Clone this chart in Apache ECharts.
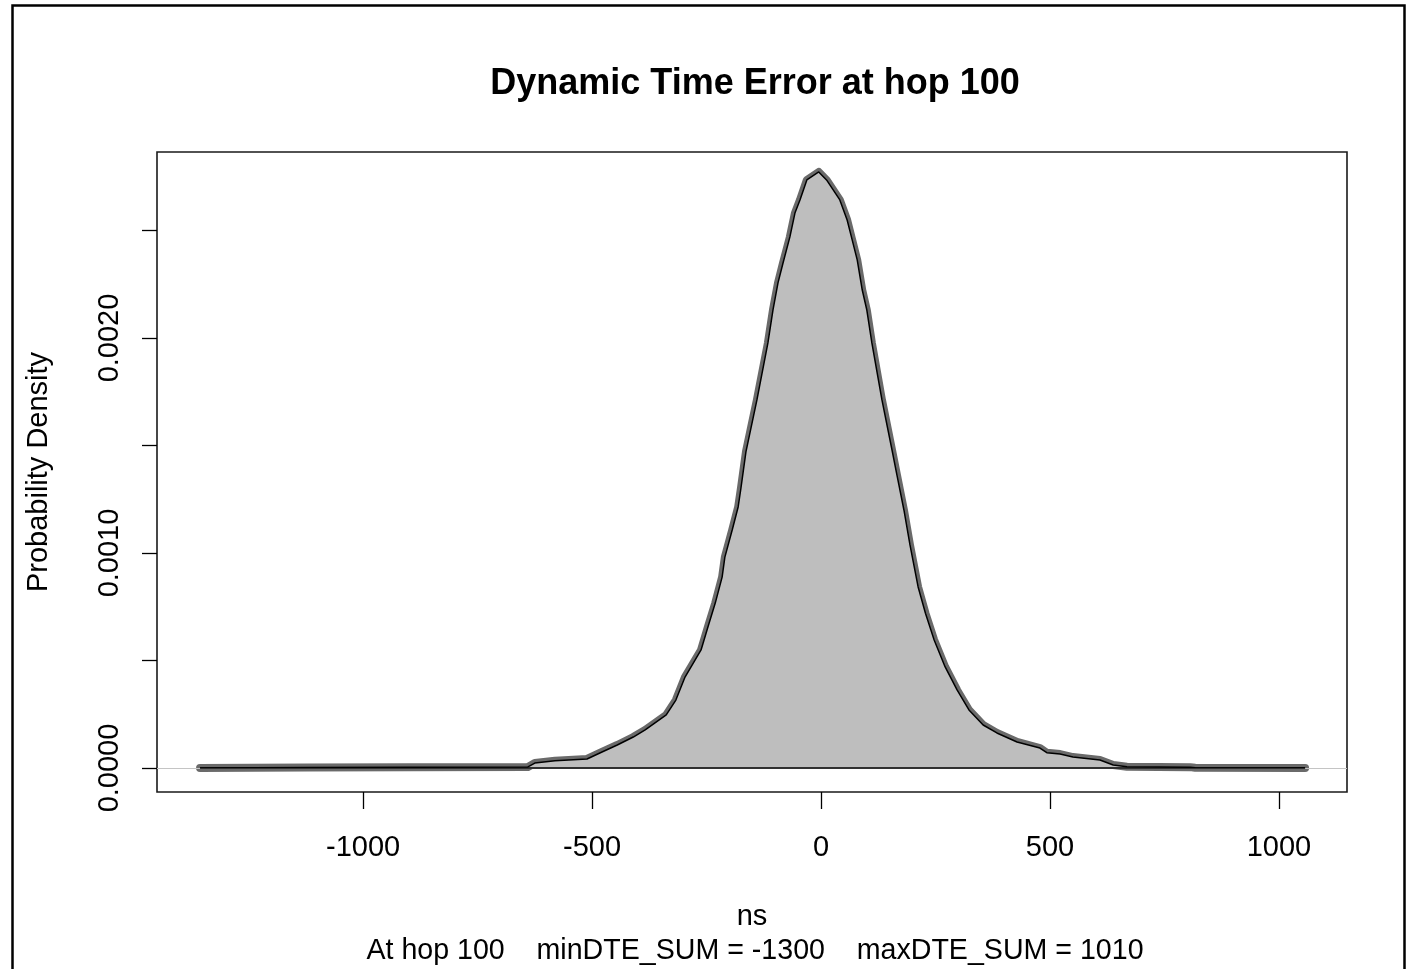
<!DOCTYPE html>
<html>
<head>
<meta charset="utf-8">
<script src="https://cdn.jsdelivr.net/npm/echarts@6/dist/echarts.min.js"></script>
<style>
html,body{margin:0;padding:0;background:#fff;}
#chart{width:1407px;height:969px;}
</style>
</head>
<body>
<div id="chart"></div>
<script>
// ---- data ----
const titleText = "Dynamic Time Error at hop 100";
const hop = 100;
const minDTE = -1300;
const maxDTE = 1010;
const xLabel = "ns";
const yLabel = "Probability Density";

// density estimate: x (ns) and y (probability density)
const densX = [-1356, -1122, -900, -640, -625, -581, -511, -483, -445, -410, -384, -338, -317, -297,
  -262, -247, -231, -216, -210, -194, -181, -175, -164, -140, -116, -105, -94, -83, -68, -57, -46,
  -31, -5, 12, 41, 57, 68, 79, 90, 100, 111, 133, 155, 166, 181, 194, 212, 228, 247, 271, 297, 323,
  354, 384, 428, 478, 493, 522, 550, 609, 638, 668, 806, 817, 1057];
const densY = [0, 0.000002, 0.000004, 0.000005, 0.000023, 0.000034, 0.000042, 0.00007, 0.000107,
  0.000144, 0.000177, 0.000247, 0.000316, 0.000423, 0.000549, 0.000656, 0.000767, 0.000888,
  0.000981, 0.001107, 0.001214, 0.001300, 0.001470, 0.001712, 0.001977, 0.00213, 0.002256,
  0.002349, 0.00247, 0.002581, 0.002642, 0.002735, 0.002772, 0.002735, 0.002642, 0.002549,
  0.002456, 0.002363, 0.002223, 0.00213, 0.001977, 0.001712, 0.001479, 0.001360, 0.001200,
  0.001040, 0.000842, 0.000720, 0.000595, 0.00047, 0.000363, 0.00027, 0.0002, 0.000163, 0.000121,
  0.000093, 0.000071, 0.000065, 0.000051, 0.000037, 0.000014, 0.000006, 0.000004, 0.000001, 0];

const xTicks = [-1000, -500, 0, 500, 1000];
const yTicks = [0, 0.0005, 0.001, 0.0015, 0.002, 0.0025];
const yTickLabels = [0, 0.001, 0.002];

// ---- build ----
const pts = densX.map((x, i) => [x, densY[i]]);
const baseLine = [[densX[0], 0], [densX[densX.length - 1], 0]];
const FONT = "'Liberation Sans', Arial, sans-serif";
const PLOT_CX = 750;

const chart = echarts.init(document.getElementById('chart'), null, {renderer: 'canvas'});
chart.setOption({
  animation: false,
  backgroundColor: '#ffffff',
  title: [{
    text: titleText,
    left: PLOT_CX,
    textAlign: 'center',
    top: 61,
    textStyle: {fontFamily: FONT, fontSize: 36, fontWeight: 'bold', color: '#000'}
  }, {
    text: 'At hop ' + hop + '    minDTE_SUM = ' + minDTE + '    maxDTE_SUM = ' + maxDTE,
    left: PLOT_CX,
    textAlign: 'center',
    top: 932,
    textStyle: {fontFamily: FONT, fontSize: 28.6, fontWeight: 'normal', color: '#000'}
  }],
  graphic: [{
    type: 'rect',
    shape: {x: 12.5, y: 5.5, width: 1392, height: 1000},
    style: {fill: 'none', stroke: '#000', lineWidth: 2.5},
    silent: true
  }],
  grid: {
    left: 157, top: 152, width: 1190, height: 640,
    show: true, borderColor: '#1a1a1a', borderWidth: 1.6, backgroundColor: 'transparent'
  },
  xAxis: {
    type: 'value',
    min: -1450, max: 1148.5,
    name: xLabel,
    nameLocation: 'middle',
    nameGap: 110,
    nameTextStyle: {fontFamily: FONT, fontSize: 29, color: '#000'},
    axisLine: {show: false, onZero: false},
    splitLine: {show: false},
    axisTick: {show: true, inside: false, length: 17, customValues: xTicks,
      lineStyle: {color: '#000', width: 1.3}},
    axisLabel: {show: true, margin: 41, customValues: xTicks,
      fontFamily: FONT, fontSize: 29, color: '#000',
      formatter: v => String(v)}
  },
  yAxis: {
    type: 'value',
    min: -0.0001116, max: 0.002865,
    name: yLabel,
    nameLocation: 'middle',
    nameGap: 104,
    nameRotate: 90,
    nameTextStyle: {fontFamily: FONT, fontSize: 29, color: '#000'},
    axisLine: {show: false, onZero: false},
    splitLine: {show: false},
    axisTick: {show: true, inside: false, length: 15, customValues: yTicks,
      lineStyle: {color: '#000', width: 1.3}},
    axisLabel: {show: true, rotate: 90, margin: 33, customValues: yTickLabels,
      fontFamily: FONT, fontSize: 29, color: '#000',
      formatter: v => Number(v).toFixed(4)}
  },
  series: [{
    type: 'line',
    name: 'thick',
    data: pts,
    symbol: 'none',
    smooth: false,
    lineStyle: {color: '#6a6a6a', width: 8, cap: 'round', join: 'round'},
    z: 2
  }, {
    type: 'line',
    name: 'zero',
    data: [],
    symbol: 'none',
    markLine: {
      silent: true,
      symbol: 'none',
      label: {show: false},
      lineStyle: {color: '#c4c4c4', width: 1.2, type: 'solid'},
      data: [{yAxis: 0}]
    },
    z: 3
  }, {
    type: 'line',
    name: 'poly',
    data: pts,
    symbol: 'none',
    smooth: false,
    lineStyle: {color: '#000', width: 1.5},
    areaStyle: {color: '#bebebe', opacity: 1, origin: 0},
    z: 4
  }, {
    type: 'line',
    name: 'base',
    data: baseLine,
    symbol: 'none',
    lineStyle: {color: '#000', width: 1.6},
    z: 5
  }]
});
</script>
</body>
</html>
